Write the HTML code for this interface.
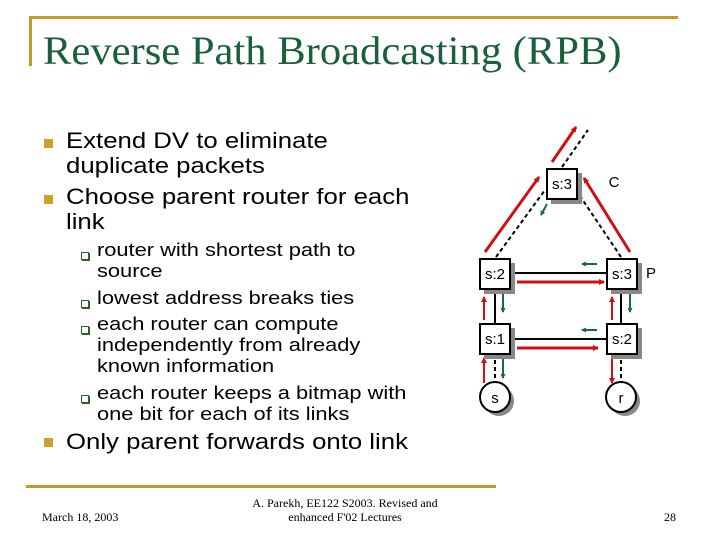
<!DOCTYPE html>
<html><head><meta charset="utf-8"><style>
body{margin:0;width:720px;height:540px;background:#fff;position:relative;overflow:hidden;font-family:"Liberation Sans",Arial,sans-serif}
.a{position:absolute;white-space:nowrap}
.t{font-size:22px;color:#000;line-height:25px;transform:scaleX(1.17);transform-origin:0 0}
.s{font-size:18.5px;color:#000;line-height:21px;transform:scaleX(1.18);transform-origin:0 0}
.b{position:absolute;width:9px;height:9px;background:#c9a227}
.q{position:absolute;width:6px;height:6px;border:1px solid #2f5f2f;box-shadow:1px 1px 0 #2f5f2f}
</style></head><body>
<div class="a" style="left:30px;top:16px;width:648px;height:3px;background:#c09a2a"></div>
<div class="a" style="left:29px;top:16px;width:3px;height:50px;background:#c09a2a"></div>
<div class="a" style="left:43px;top:27px;font-family:'Liberation Serif',serif;font-size:40px;color:#1a5e3a;transform:scaleX(1.065);transform-origin:0 0">Reverse Path Broadcasting (RPB)</div>

<div class="b" style="left:44px;top:139px"></div>
<div class="a t" style="left:66px;top:128px">Extend DV to eliminate</div>
<div class="a t" style="left:66px;top:153px">duplicate packets</div>
<div class="b" style="left:44px;top:195px"></div>
<div class="a t" style="left:66px;top:184px">Choose parent router for each</div>
<div class="a t" style="left:66px;top:209px">link</div>
<div class="q" style="left:81px;top:252px"></div>
<div class="a s" style="left:97px;top:239px">router with shortest path to</div>
<div class="a s" style="left:97px;top:260px">source</div>
<div class="q" style="left:81px;top:300px"></div>
<div class="a s" style="left:97px;top:287px">lowest address breaks ties</div>
<div class="q" style="left:81px;top:326px"></div>
<div class="a s" style="left:97px;top:313px">each router can compute</div>
<div class="a s" style="left:97px;top:334px">independently from already</div>
<div class="a s" style="left:97px;top:355px">known information</div>
<div class="q" style="left:81px;top:395px"></div>
<div class="a s" style="left:97px;top:382px">each router keeps a bitmap with</div>
<div class="a s" style="left:97px;top:403px">one bit for each of its links</div>
<div class="b" style="left:44px;top:438px"></div>
<div class="a t" style="left:66px;top:429px">Only parent forwards onto link</div>

<svg class="a" style="left:0;top:0" width="720" height="540">
<defs>
<marker id="r" markerWidth="6" markerHeight="6" refX="5" refY="3" orient="auto" markerUnits="userSpaceOnUse"><path d="M0,0 L6,3 L0,6z" fill="#d01010"/></marker>
<marker id="g" markerWidth="5" markerHeight="5" refX="4" refY="2.5" orient="auto" markerUnits="userSpaceOnUse"><path d="M0,0 L5,2.5 L0,5z" fill="#1a6a3a"/></marker>
</defs>
<g stroke="#000" stroke-width="2" stroke-dasharray="4,3" fill="none">
<line x1="562" y1="167" x2="588" y2="130"/>
<line x1="496" y1="257" x2="545" y2="190"/>
<line x1="621" y1="257" x2="576" y2="190"/>
<line x1="495" y1="353" x2="495" y2="382"/>
<line x1="621" y1="353" x2="621" y2="382"/>
</g>
<g stroke="#000" stroke-width="2">
<line x1="510" y1="273" x2="606" y2="273"/>
<line x1="510" y1="339" x2="606" y2="339"/>
<line x1="495" y1="289" x2="495" y2="323"/>
<line x1="621" y1="289" x2="621" y2="323"/>
</g>
<g stroke="#d01010" stroke-width="3" marker-end="url(#r)">
<line x1="552" y1="162" x2="576" y2="127"/>
<line x1="485" y1="252" x2="539" y2="177"/>
<line x1="630" y1="252" x2="584" y2="178"/>
<line x1="517" y1="282" x2="604" y2="282"/>
<line x1="517" y1="348" x2="598" y2="348"/>
</g>
<g stroke="#d01010" stroke-width="2" marker-end="url(#r)">
<line x1="484" y1="320" x2="484" y2="297"/>
<line x1="484" y1="383" x2="484" y2="358"/>
<line x1="612" y1="320" x2="612" y2="297"/>
<line x1="612" y1="356" x2="612" y2="383"/>
</g>
<g stroke="#1a6a3a" stroke-width="2" marker-end="url(#g)">
<line x1="547" y1="204" x2="541" y2="215"/>
<line x1="597" y1="264" x2="582" y2="264"/>
<line x1="597" y1="330" x2="582" y2="330"/>
<line x1="503" y1="293" x2="503" y2="312"/>
<line x1="630" y1="293" x2="630" y2="312"/>
<line x1="503" y1="356" x2="503" y2="378"/>
</g>
<g fill="#888">
<rect x="551" y="173" width="31" height="31"/>
<rect x="484" y="263" width="31" height="31"/>
<rect x="611" y="263" width="31" height="31"/>
<rect x="484" y="328" width="31" height="31"/>
<rect x="611" y="328" width="31" height="31"/>
<circle cx="499" cy="401" r="15"/>
<circle cx="625" cy="401" r="15"/>
</g>
<g fill="#fff" stroke="#000" stroke-width="2">
<rect x="547" y="169" width="30" height="30"/>
<rect x="480" y="259" width="30" height="30"/>
<rect x="607" y="259" width="30" height="30"/>
<rect x="480" y="324" width="30" height="30"/>
<rect x="607" y="324" width="30" height="30"/>
<circle cx="495" cy="397" r="15"/>
<circle cx="621" cy="397" r="15"/>
</g>
<g font-family="Liberation Sans,Arial,sans-serif" font-size="15" text-anchor="middle" fill="#000">
<text x="562" y="189">s:3</text>
<text x="495" y="279">s:2</text>
<text x="622" y="279">s:3</text>
<text x="495" y="344">s:1</text>
<text x="622" y="344">s:2</text>
<text x="495" y="403">s</text>
<text x="621" y="403">r</text>
<text x="614" y="187">C</text>
<text x="651" y="278">P</text>
</g>
</svg>

<div class="a" style="left:26px;top:485px;width:470px;height:3px;background:#c09a2a"></div>
<div class="a" style="left:42px;top:510px;font-family:'Liberation Serif',serif;font-size:12px">March 18, 2003</div>
<div class="a" style="left:220px;top:496px;width:250px;text-align:center;font-family:'Liberation Serif',serif;font-size:12px;line-height:14px">A. Parekh, EE122 S2003. Revised and<br>enhanced F'02 Lectures</div>
<div class="a" style="left:664px;top:510px;font-family:'Liberation Serif',serif;font-size:12px">28</div>
</body></html>
